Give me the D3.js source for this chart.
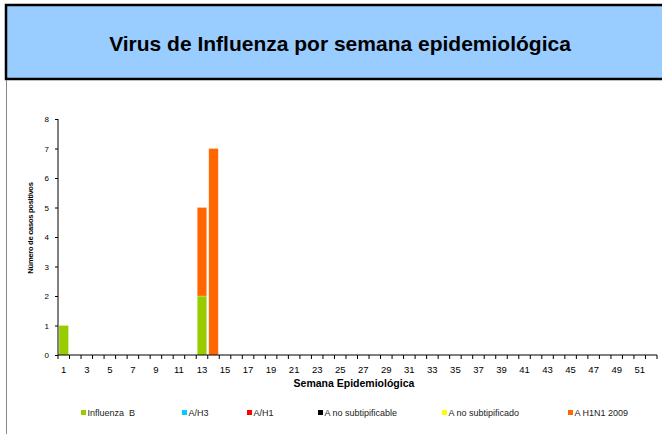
<!DOCTYPE html>
<html><head><meta charset="utf-8">
<script src="https://cdn.jsdelivr.net/npm/d3@7"></script>
<style>body{margin:0;background:#fff}svg{display:block;font-family:"Liberation Sans",Arial,sans-serif}</style>
</head><body>
<script>
const title = "Virus de Influenza por semana epidemiológica";
const weeks = d3.range(1, 53);
const seriesNames = ["Influenza  B", "A/H3", "A/H1", "A no subtipificable", "A no subtipificado", "A H1N1 2009"];
const seriesColors = ["#99CC00", "#00CCFF", "#FF0000", "#000000", "#FFFF00", "#FF6600"];
// values per series: [week, count] for non-zero weeks
const influenzaB = [[1, 1], [13, 2]];
const aH3 = [];
const aH1 = [];
const aNoSubtipificable = [];
const aNoSubtipificado = [];
const aH1N1_2009 = [[13, 3], [14, 7]];
const yTicks = [0, 1, 2, 3, 4, 5, 6, 7, 8];
const xTickLabels = weeks.filter(w => w % 2 === 1);

const W = 662, H = 434;
const svg = d3.select("body").append("svg").attr("width", W).attr("height", H);

// title box
svg.append("rect").attr("x", 6).attr("y", 5).attr("width", W).attr("height", 74)
  .attr("fill", "#99CCFF").attr("stroke", "#000").attr("stroke-width", 2.5);
svg.append("text").attr("x", 340).attr("y", 51).attr("text-anchor", "middle")
  .attr("font-size", 21).attr("font-weight", "bold").text(title);
// frame line
svg.append("line").attr("x1", 6.5).attr("x2", 6.5).attr("y1", 80).attr("y2", H)
  .attr("stroke", "#888").attr("stroke-width", 1);

const m = {l: 58, r: 657, t: 119, b: 355};
const x = d3.scaleBand().domain(weeks).range([m.l, m.r]).paddingInner(0.18).paddingOuter(0.09);
const xb = d3.scaleBand().domain(weeks).range([m.l, m.r]);
const y = d3.scaleLinear().domain([0, 8]).range([m.b, m.t]);

const all = [influenzaB, aH3, aH1, aNoSubtipificable, aNoSubtipificado, aH1N1_2009];
const table = weeks.map(w => {
  const row = {week: w};
  all.forEach((s, i) => { const f = s.find(d => d[0] === w); row[seriesNames[i]] = f ? f[1] : 0; });
  return row;
});
const stack = d3.stack().keys(seriesNames)(table);

svg.append("g").selectAll("g").data(stack).join("g")
  .attr("fill", (d, i) => seriesColors[i])
  .selectAll("rect").data(d => d.filter(p => p[1] - p[0] > 0)).join("rect")
  .attr("x", d => x(d.data.week)).attr("width", x.bandwidth())
  .attr("y", d => y(d[1])).attr("height", d => y(d[0]) - y(d[1]))
  .attr("stroke", "#fff").attr("stroke-opacity", 0.4).attr("stroke-width", 0.6);

// y axis
const ya = svg.append("g").attr("transform", `translate(${m.l},0)`)
  .call(d3.axisLeft(y).tickValues(yTicks).tickSize(3).tickPadding(6).tickFormat(d3.format("d")));
ya.select(".domain").attr("d", `M0,${m.t}V${m.b}`);
ya.selectAll("text").attr("font-size", 8).attr("font-family", "Liberation Sans, Arial");

// x axis
const xa = svg.append("g").attr("transform", `translate(0,${m.b})`);
xa.append("line").attr("x1", m.l).attr("x2", m.r).attr("stroke", "#000");
xa.selectAll("line.t").data(weeks.concat([53])).join("line").attr("class", "t")
  .attr("x1", d => d <= 52 ? xb(d) : m.r).attr("x2", d => d <= 52 ? xb(d) : m.r)
  .attr("y1", 0).attr("y2", 4).attr("stroke", "#000");
xa.selectAll("text").data(xTickLabels).join("text")
  .attr("x", d => xb(d) + xb.bandwidth() / 2).attr("y", 18)
  .attr("text-anchor", "middle").attr("font-size", 9.5).text(d => d);

svg.append("text").attr("x", 354).attr("y", 387).attr("text-anchor", "middle")
  .attr("font-size", 10.5).attr("font-weight", "bold").text("Semana Epidemiológica");
svg.append("text").attr("transform", "translate(33,228) rotate(-90)").attr("text-anchor", "middle")
  .attr("font-size", 7.6).attr("font-weight", "bold").attr("letter-spacing", -0.3).text("Número de casos positivos");

// legend
const legX = [81, 182, 247, 318, 442, 568];
const lg = svg.append("g").selectAll("g").data(seriesNames).join("g")
  .attr("transform", (d, i) => `translate(${legX[i]},416)`);
lg.append("rect").attr("x", 0).attr("y", -6).attr("width", 5).attr("height", 5)
  .attr("fill", (d, i) => seriesColors[i]);
lg.append("text").attr("x", 6.5).attr("y", 0).attr("font-size", 9).attr("fill", "#222")
  .style("white-space", "pre").text(d => d);
</script>
</body></html>
